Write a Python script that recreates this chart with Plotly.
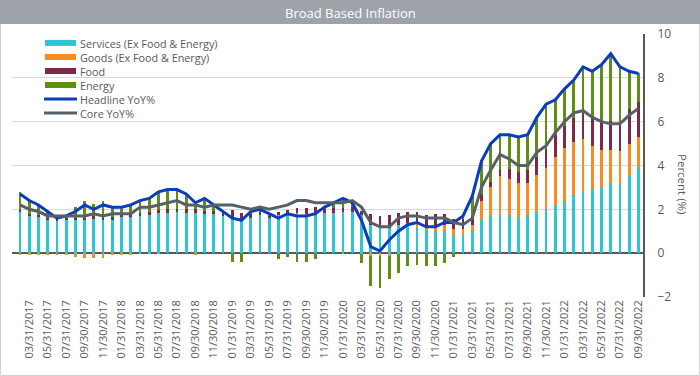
import plotly.graph_objects as go

dates = [
    "02/28/2017", "03/31/2017", "04/30/2017", "05/31/2017", "06/30/2017", "07/31/2017",
    "08/31/2017", "09/30/2017", "10/31/2017", "11/30/2017", "12/31/2017",
    "01/31/2018", "02/28/2018", "03/31/2018", "04/30/2018", "05/31/2018", "06/30/2018",
    "07/31/2018", "08/31/2018", "09/30/2018", "10/31/2018", "11/30/2018", "12/31/2018",
    "01/31/2019", "02/28/2019", "03/31/2019", "04/30/2019", "05/31/2019", "06/30/2019",
    "07/31/2019", "08/31/2019", "09/30/2019", "10/31/2019", "11/30/2019", "12/31/2019",
    "01/31/2020", "02/29/2020", "03/31/2020", "04/30/2020", "05/31/2020", "06/30/2020",
    "07/31/2020", "08/31/2020", "09/30/2020", "10/31/2020", "11/30/2020", "12/31/2020",
    "01/31/2021", "02/28/2021", "03/31/2021", "04/30/2021", "05/31/2021", "06/30/2021",
    "07/31/2021", "08/31/2021", "09/30/2021", "10/31/2021", "11/30/2021", "12/31/2021",
    "01/31/2022", "02/28/2022", "03/31/2022", "04/30/2022", "05/31/2022", "06/30/2022",
    "07/31/2022", "08/31/2022", "09/30/2022",
]

services = [
    1.92, 1.72, 1.65, 1.52, 1.48, 1.50, 1.50, 1.50, 1.58, 1.52, 1.52,
    1.64, 1.64, 1.70, 1.75, 1.82, 1.85, 1.88, 1.85, 1.85, 1.78, 1.78, 1.70,
    1.55, 1.50, 1.60, 1.72, 1.62, 1.72, 1.74, 1.74, 1.78, 1.75, 1.82, 1.85,
    1.87, 1.90, 1.75, 1.30, 1.15, 1.15, 1.30, 1.38, 1.20, 1.05, 1.00, 1.00,
    0.83, 0.80, 1.00, 1.50, 1.70, 1.80, 1.70, 1.60, 1.70, 1.90, 2.00, 2.20,
    2.38, 2.60, 2.80, 2.90, 3.00, 3.20, 3.20, 3.50, 3.90,
]
goods = [
    -0.05, -0.05, -0.05, -0.05, -0.07, -0.07, -0.18, -0.20, -0.20, -0.20, -0.05,
    -0.05, -0.05, -0.03, -0.03, -0.02, 0.00, 0.00, 0.00, -0.05, 0.00, 0.00, 0.00,
    0.05, 0.00, 0.00, 0.00, 0.00, 0.00, 0.00, 0.08, 0.03, 0.00, 0.00, 0.00,
    -0.02, 0.00, -0.05, -0.12, -0.15, -0.12, -0.05, 0.00, 0.15, 0.20, 0.18, 0.30,
    0.26, 0.30, 0.28, 0.87, 1.30, 1.70, 1.70, 1.62, 1.50, 1.67, 1.87, 2.20,
    2.40, 2.48, 2.40, 2.00, 1.72, 1.50, 1.45, 1.50, 1.40,
]
food = [
    0.03, 0.06, 0.07, 0.10, 0.10, 0.10, 0.12, 0.12, 0.10, 0.12, 0.12,
    0.12, 0.12, 0.15, 0.15, 0.15, 0.15, 0.15, 0.15, 0.16, 0.15, 0.16, 0.20,
    0.35, 0.35, 0.22, 0.18, 0.12, 0.17, 0.25, 0.25, 0.26, 0.35, 0.20, 0.22,
    0.20, 0.20, 0.18, 0.50, 0.55, 0.60, 0.55, 0.50, 0.55, 0.50, 0.62, 0.50,
    0.46, 0.45, 0.40, 0.35, 0.27, 0.28, 0.45, 0.50, 0.60, 0.80, 0.90, 0.98,
    1.00, 1.10, 1.20, 1.20, 1.30, 1.35, 1.30, 1.60, 1.60,
]
energy = [
    0.85, 0.62, 0.50, 0.30, 0.10, 0.15, 0.50, 0.75, 0.55, 0.75, 0.50,
    0.40, 0.50, 0.55, 0.60, 0.85, 0.90, 0.85, 0.70, 0.35, 0.55, 0.25, 0.00,
    -0.38, -0.38, 0.08, 0.10, 0.05, -0.27, -0.18, -0.38, -0.38, -0.27, 0.08, 0.23,
    0.43, 0.20, -0.38, -1.40, -1.45, -1.05, -0.85, -0.60, -0.55, -0.60, -0.60, -0.45,
    -0.18, 0.15, 0.90, 1.48, 1.73, 1.62, 1.55, 1.58, 1.60, 1.83, 2.03, 1.62,
    1.72, 1.72, 2.10, 2.20, 2.58, 3.05, 2.55, 1.70, 1.30,
]
headline = [
    2.7, 2.4, 2.2, 1.9, 1.6, 1.7, 1.9, 2.2, 2.0, 2.2, 2.1,
    2.1, 2.2, 2.4, 2.5, 2.8, 2.9, 2.9, 2.7, 2.3, 2.5, 2.2, 1.9,
    1.6, 1.5, 1.9, 2.0, 1.8, 1.6, 1.8, 1.7, 1.7, 1.8, 2.1, 2.3,
    2.5, 2.3, 1.5, 0.3, 0.1, 0.6, 1.0, 1.3, 1.4, 1.2, 1.2, 1.4,
    1.4, 1.7, 2.6, 4.2, 5.0, 5.4, 5.4, 5.3, 5.4, 6.2, 6.8, 7.0,
    7.5, 7.9, 8.5, 8.3, 8.6, 9.1, 8.5, 8.3, 8.2,
]
core = [
    2.2, 2.0, 1.9, 1.7, 1.7, 1.7, 1.7, 1.7, 1.8, 1.7, 1.8,
    1.8, 1.8, 2.1, 2.1, 2.2, 2.3, 2.4, 2.2, 2.2, 2.1, 2.2, 2.2,
    2.2, 2.1, 2.0, 2.1, 2.0, 2.1, 2.2, 2.4, 2.4, 2.3, 2.3, 2.3,
    2.3, 2.4, 2.1, 1.4, 1.2, 1.2, 1.6, 1.7, 1.7, 1.6, 1.6, 1.6,
    1.4, 1.3, 1.6, 3.0, 3.8, 4.5, 4.3, 4.0, 4.0, 4.6, 4.9, 5.5,
    6.0, 6.4, 6.5, 6.2, 6.0, 5.9, 5.9, 6.3, 6.6,
]

tick_labels = dates[1::2]
y_ticks = [-2, 0, 2, 4, 6, 8, 10]

bar_series = [
    ("Services (Ex Food & Energy)", services, "#2CC6D2"),
    ("Goods (Ex Food & Energy)", goods, "#F88B22"),
    ("Food", food, "#7C2A48"),
    ("Energy", energy, "#5F8E12"),
]
line_series = [
    ("Headline YoY%", headline, "#0A3DBD"),
    ("Core YoY%", core, "#566069"),
]

W, H = 700, 376
L, R, T, B = 12, 57, 34, 79
PW, PH = W - L - R, H - T - B


def px(x):
    return (x - L) / PW


def py(y):
    return (H - B - y) / PH


fig = go.Figure()
for name, vals, col in bar_series:
    fig.add_trace(go.Bar(x=dates, y=vals, name=name, marker_color=col,
                         marker_line_width=0, width=0.3, showlegend=False))
for name, vals, col in line_series:
    fig.add_trace(go.Scatter(x=dates, y=vals, name=name, mode="lines",
                             line=dict(color=col, width=3), showlegend=False))

shapes = []
annotations = []
# outer border and title bar
shapes.append(dict(type="rect", xref="paper", yref="paper",
                   x0=px(0.5), x1=px(699.5), y0=py(375.5), y1=py(0.5),
                   line=dict(color="#D0D0D0", width=1), fillcolor="rgba(0,0,0,0)"))
shapes.append(dict(type="rect", xref="paper", yref="paper",
                   x0=px(0), x1=px(700), y0=py(24), y1=py(0),
                   line=dict(width=0), fillcolor="#9DA3A9"))
annotations.append(dict(text="Broad Based Inflation", xref="paper", yref="paper",
                        x=px(350), y=py(12.5), xanchor="center", yanchor="middle",
                        showarrow=False, font=dict(color="white", size=13)))

# manual legend: one multi-line text block plus swatches
leg_font = 10.8
leg_step = leg_font * 1.3
leg_center = 78.0
items = [(n, c, "bar") for n, _, c in bar_series] + [(n, c, "line") for n, _, c in line_series]
for k, (name, col, kind) in enumerate(items):
    yc = leg_center + (k - 2.5) * leg_step
    if kind == "bar":
        shapes.append(dict(type="rect", xref="paper", yref="paper",
                           x0=px(45), x1=px(76), y0=py(yc + 3), y1=py(yc - 3),
                           line=dict(width=0), fillcolor=col))
    else:
        shapes.append(dict(type="line", xref="paper", yref="paper",
                           x0=px(44), x1=px(77), y0=py(yc), y1=py(yc),
                           line=dict(color=col, width=3)))
annotations.append(dict(text="<br>".join(n for n, _, _ in items),
                        xref="paper", yref="paper", align="left",
                        x=px(79), y=py(leg_center), xanchor="left", yanchor="middle",
                        showarrow=False, borderpad=0,
                        font=dict(color="#595959", size=leg_font)))

annotations.append(dict(text="Percent (%)", xref="paper", yref="paper",
                        x=px(683), y=py(184), xanchor="center", yanchor="middle",
                        textangle=90, showarrow=False,
                        font=dict(color="#595959", size=11.5)))

fig.update_layout(
    width=W, height=H,
    margin=dict(l=L, r=R, t=T, b=B, autoexpand=False),
    barmode="relative",
    bargap=0,
    plot_bgcolor="white", paper_bgcolor="white",
    font=dict(family="Open Sans", color="#595959"),
    showlegend=False,
    shapes=shapes,
    annotations=annotations,
    xaxis=dict(type="category", range=[-0.87, 67.5], tickvals=tick_labels,
               ticktext=tick_labels, tickangle=-90, showgrid=False, ticks="",
               automargin=False,
               tickfont=dict(size=11, color="#595959"), showline=False),
    yaxis=dict(side="right", range=[-2, 10], tickvals=y_ticks,
               showgrid=True, gridcolor="#D9D9D9", gridwidth=1,
               zeroline=True, zerolinecolor="#595959", zerolinewidth=2,
               showline=True, linecolor="#595959", linewidth=2,
               ticks="", ticklabelstandoff=10, automargin=False,
               tickfont=dict(size=12, color="#595959")),
)

fig.write_html(
    "out.html",
    config={"displayModeBar": False},
    post_script="document.body.style.margin='0';document.body.style.padding='0';"
                "document.documentElement.style.overflow='hidden';",
)
